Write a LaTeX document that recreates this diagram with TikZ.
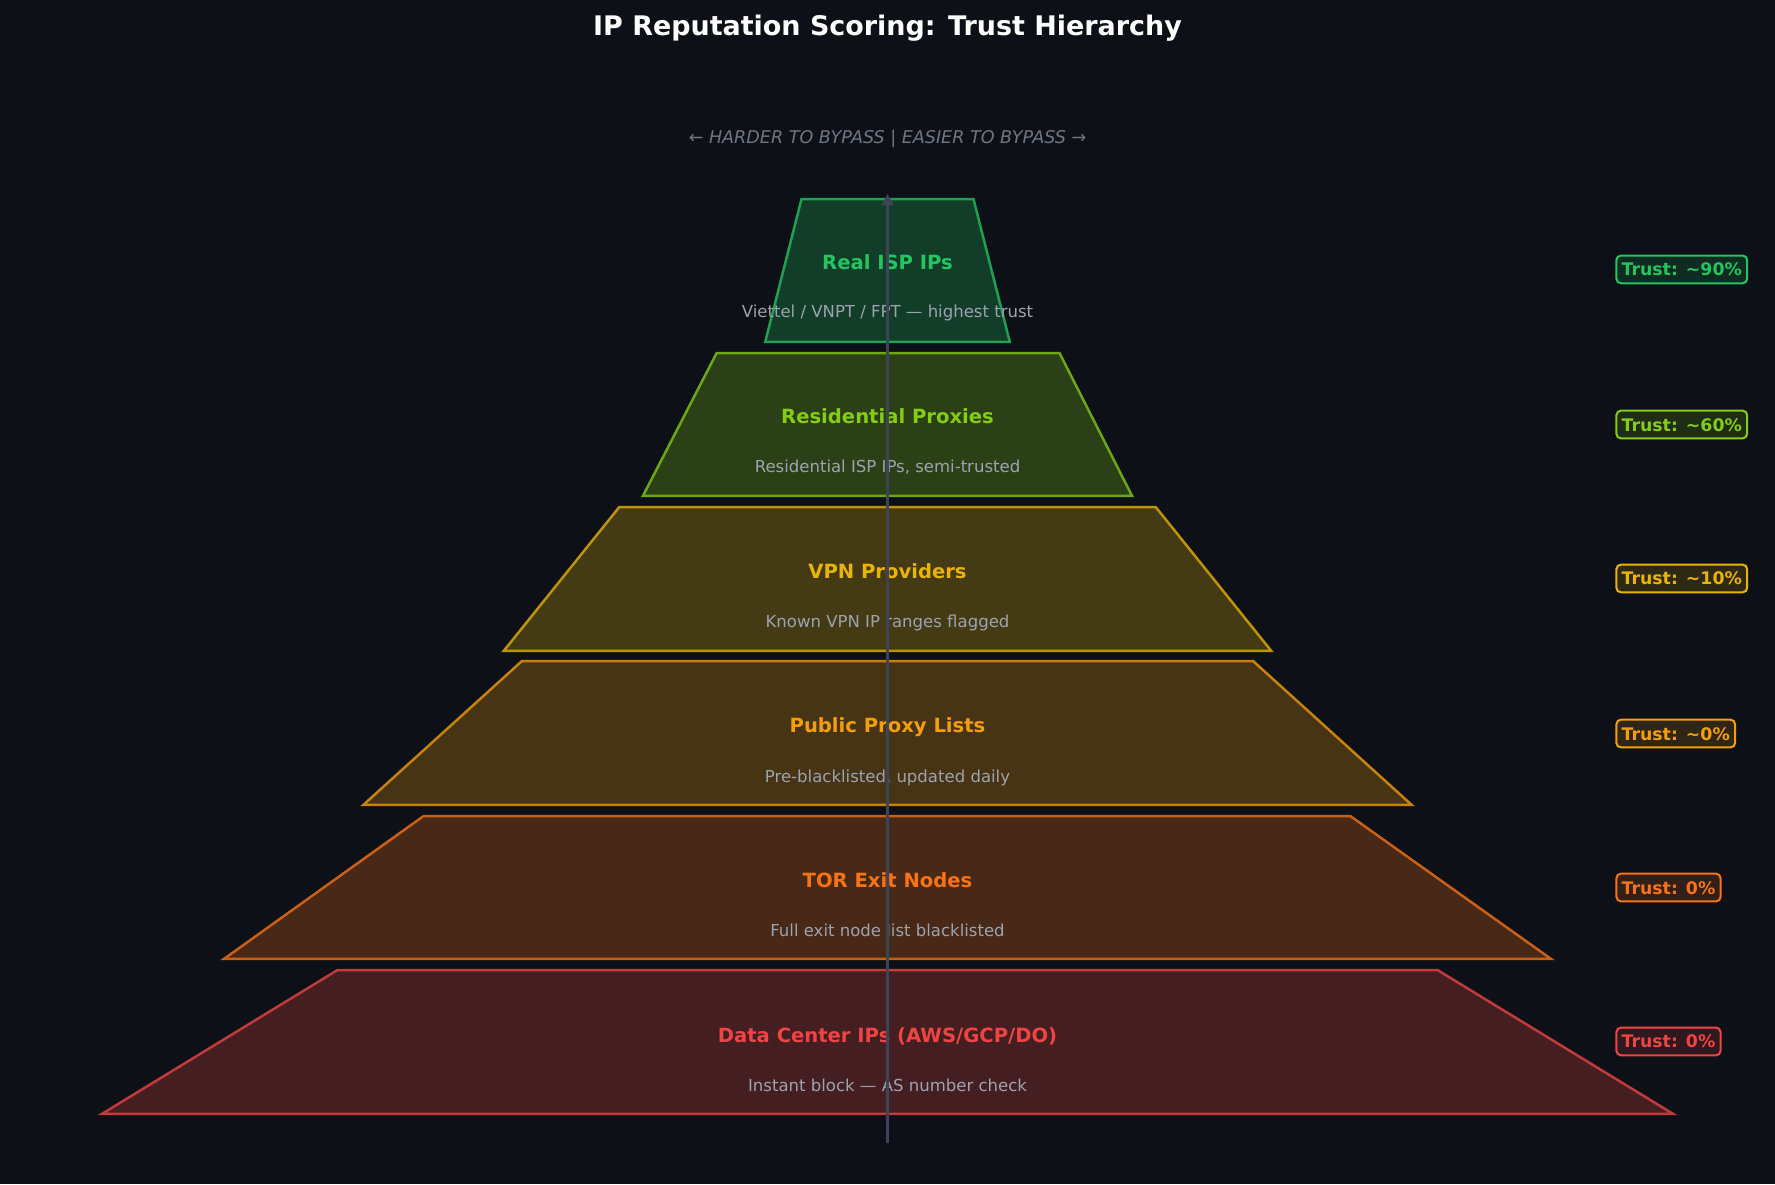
\documentclass[tikz,border=0pt]{standalone}
\usepackage{fontspec}
\setmainfont{DejaVu Sans}[ItalicFont={DejaVu Sans Oblique},BoldFont={DejaVu Sans Bold},BoldItalicFont={DejaVu Sans Bold Oblique}]
\usetikzlibrary{arrows.meta}
\definecolor{bg}{HTML}{0D1117}
\definecolor{cgreen}{HTML}{22C55E}
\definecolor{clime}{HTML}{84CC16}
\definecolor{cyellow}{HTML}{EAB308}
\definecolor{camber}{HTML}{F59E0B}
\definecolor{corange}{HTML}{F97316}
\definecolor{cred}{HTML}{EF4444}
\definecolor{descgray}{HTML}{9CA3AF}
\definecolor{subgray}{HTML}{6E7681}
\definecolor{axisgray}{HTML}{3D4455}
\tikzset{
  tier/.style={line width=2.2pt, draw=#1!80!bg, fill=#1!25!bg, line join=miter},
  tlabel/.style={text=#1, font=\fontsize{17.3}{20}\selectfont\bfseries, inner sep=0pt,
    text height=13.2pt, text depth=4.2pt},
  tdesc/.style={text=descgray, font=\fontsize{14.6}{17}\selectfont, inner sep=0pt,
    text height=11.1pt, text depth=3.5pt},
  badge/.style={draw=#1, fill=#1!15!bg, text=#1, rounded corners=4pt, line width=1.8pt,
    font=\fontsize{15.3}{18}\selectfont\bfseries, inner xsep=4.6pt, inner ysep=6.5pt,
    text height=11.5pt, text depth=0pt, anchor=west},
  axisline/.style={draw=axisgray, line width=3.5pt, -{Triangle[width=10.6pt,length=10pt]}},
}
\newcommand{\tiershape}[8]{%
  % #1 color, #2 top y, #3 bottom y, #4 tl x, #5 tr x, #6 bl x, #7 br x, #8 name
  \coordinate (#8-tl) at (#4,#2);
  \coordinate (#8-tr) at (#5,#2);
  \coordinate (#8-br) at (#7,#3);
  \coordinate (#8-bl) at (#6,#3);
  \path[tier=#1] (#8-tl) -- (#8-tr) -- (#8-br) -- (#8-bl) -- cycle;
}
\begin{document}
\begin{tikzpicture}[x=1pt,y=-1pt]
\fill[bg] (0,0) rectangle (1568,1046);
\useasboundingbox (0,0) rectangle (1568,1046);

\node[text=white, font=\fontsize{23.8}{28}\selectfont\bfseries, inner sep=0pt, text height=18.1pt, text depth=5.7pt] (title) at (784,25) {IP Reputation Scoring: Trust Hierarchy};
\node[text=subgray, font=\fontsize{15.5}{18}\selectfont\itshape, inner sep=0pt, text height=11.8pt, text depth=3.7pt] (sub) at (784,123) {← HARDER TO BYPASS | EASIER TO BYPASS →};

\tiershape{cgreen}{176}{302}{708}{860}{676}{892}{t1}
\tiershape{clime}{312}{438}{633}{936}{568}{1000}{t2}
\tiershape{cyellow}{448}{575}{547}{1021}{445}{1123}{t3}
\tiershape{camber}{584}{711}{461}{1107}{321}{1247}{t4}
\tiershape{corange}{721}{847}{374}{1193}{198}{1370}{t5}
\tiershape{cred}{857}{984}{298}{1270}{90}{1478}{t6}

\node[tlabel=cgreen] (l1) at (784,234) {Real ISP IPs};
\node[tdesc] (d1) at (784,277) {Viettel / VNPT / FPT — highest trust};
\node[tlabel=clime] (l2) at (784,370) {Residential Proxies};
\node[tdesc] (d2) at (784,414) {Residential ISP IPs, semi-trusted};
\node[tlabel=cyellow] (l3) at (784,506.5) {VPN Providers};
\node[tdesc] (d3) at (784,550.5) {Known VPN IP ranges flagged};
\node[tlabel=camber] (l4) at (784,643) {Public Proxy Lists};
\node[tdesc] (d4) at (784,687) {Pre-blacklisted, updated daily};
\node[tlabel=corange] (l5) at (784,779.5) {TOR Exit Nodes};
\node[tdesc] (d5) at (784,823.5) {Full exit node list blacklisted};
\node[tlabel=cred] (l6) at (784,916) {Data Center IPs (AWS/GCP/DO)};
\node[tdesc] (d6) at (784,960) {Instant block — AS number check};

\node[badge=cgreen] (b1) at (1427,238) {Trust: \textasciitilde90\%};
\node[badge=clime] (b2) at (1427,375) {Trust: \textasciitilde60\%};
\node[badge=cyellow] (b3) at (1427,511) {Trust: \textasciitilde10\%};
\node[badge=camber] (b4) at (1427,648) {Trust: \textasciitilde0\%};
\node[badge=corange] (b5) at (1427,784) {Trust: 0\%};
\node[badge=cred] (b6) at (1427,920) {Trust: 0\%};

\coordinate (abot) at (784,1010);
\coordinate (atop) at (784,171.5);
\draw[axisline] (abot) -- (atop);
\end{tikzpicture}
\end{document}
